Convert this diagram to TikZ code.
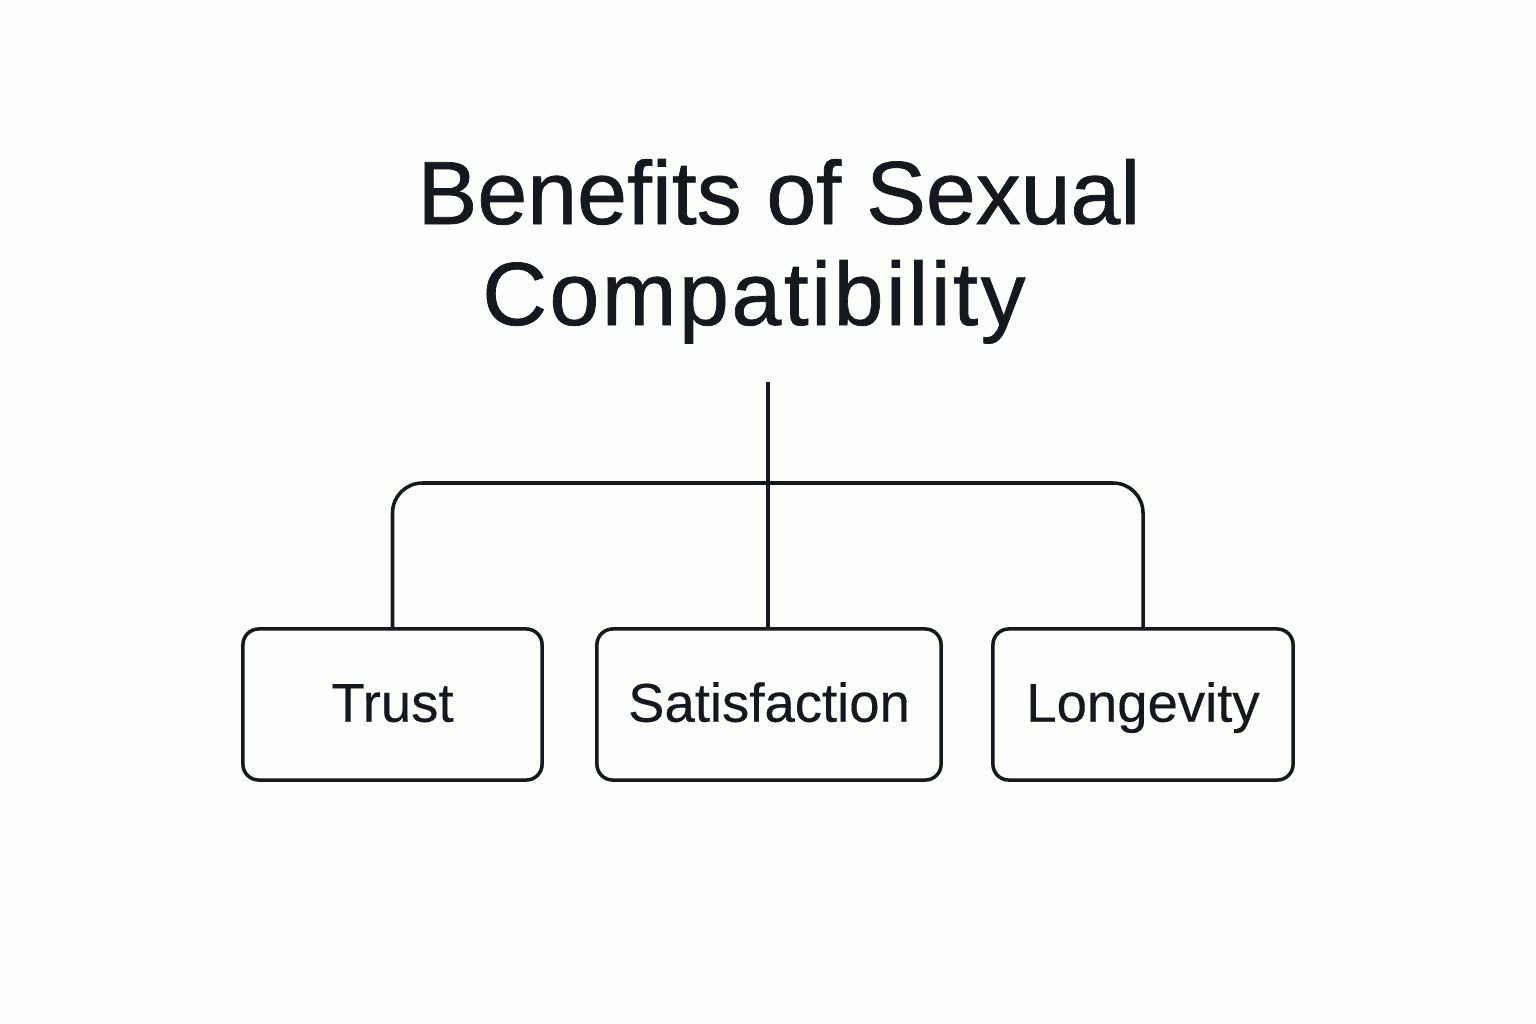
\documentclass[tikz,border=0pt]{standalone}
\usepackage{fontspec}
\setmainfont{Liberation Sans}
\usepackage{xcolor}
\definecolor{chartink}{HTML}{15181D}
\definecolor{chartpaper}{HTML}{FDFDFB}

\begin{document}
\begin{tikzpicture}[x=0.01cm, y=-0.01cm, line width=1pt,
  benefitbox/.style={draw=chartink, rounded corners=4.5pt, minimum height=1.51cm, inner sep=0pt, text height=0.75em+2.3pt, text depth=0pt, text=chartink, font=\fontsize{15.5}{18}\selectfont\addfontfeature{FakeBold=0.3}},
  titleline/.style={text=chartink, inner sep=0pt, font=\fontsize{25.5}{30}\selectfont\addfontfeature{FakeBold=0.8}}]

  \fill[chartpaper] (0,0) rectangle (1536,1024);
  \useasboundingbox (0,0) rectangle (1536,1024);

  % title, two lines
  \node[titleline, anchor=base] (title1) at (779,224) {Benefits of Sexual};
  \node[titleline, anchor=base] (title2) at (754,325) {\addfontfeature{LetterSpace=2.8}Compatibility};

  % the three benefits
  \node[benefitbox, minimum width=2.99cm] (trust) at (392.5,704.5) {Trust};
  \node[benefitbox, minimum width=3.44cm] (satisfaction) at (769,704.5) {Satisfaction};
  \node[benefitbox, minimum width=3.00cm] (longevity) at (1143,704.5) {Longevity};

  \coordinate (hub) at (768,382);
  \coordinate (bar) at (768,483);

  \draw[chartink] (hub) -- (hub |- satisfaction.north);
  \draw[chartink, rounded corners=8.5pt] (trust.north) |- (bar) -| (longevity.north);

\end{tikzpicture}
\end{document}
